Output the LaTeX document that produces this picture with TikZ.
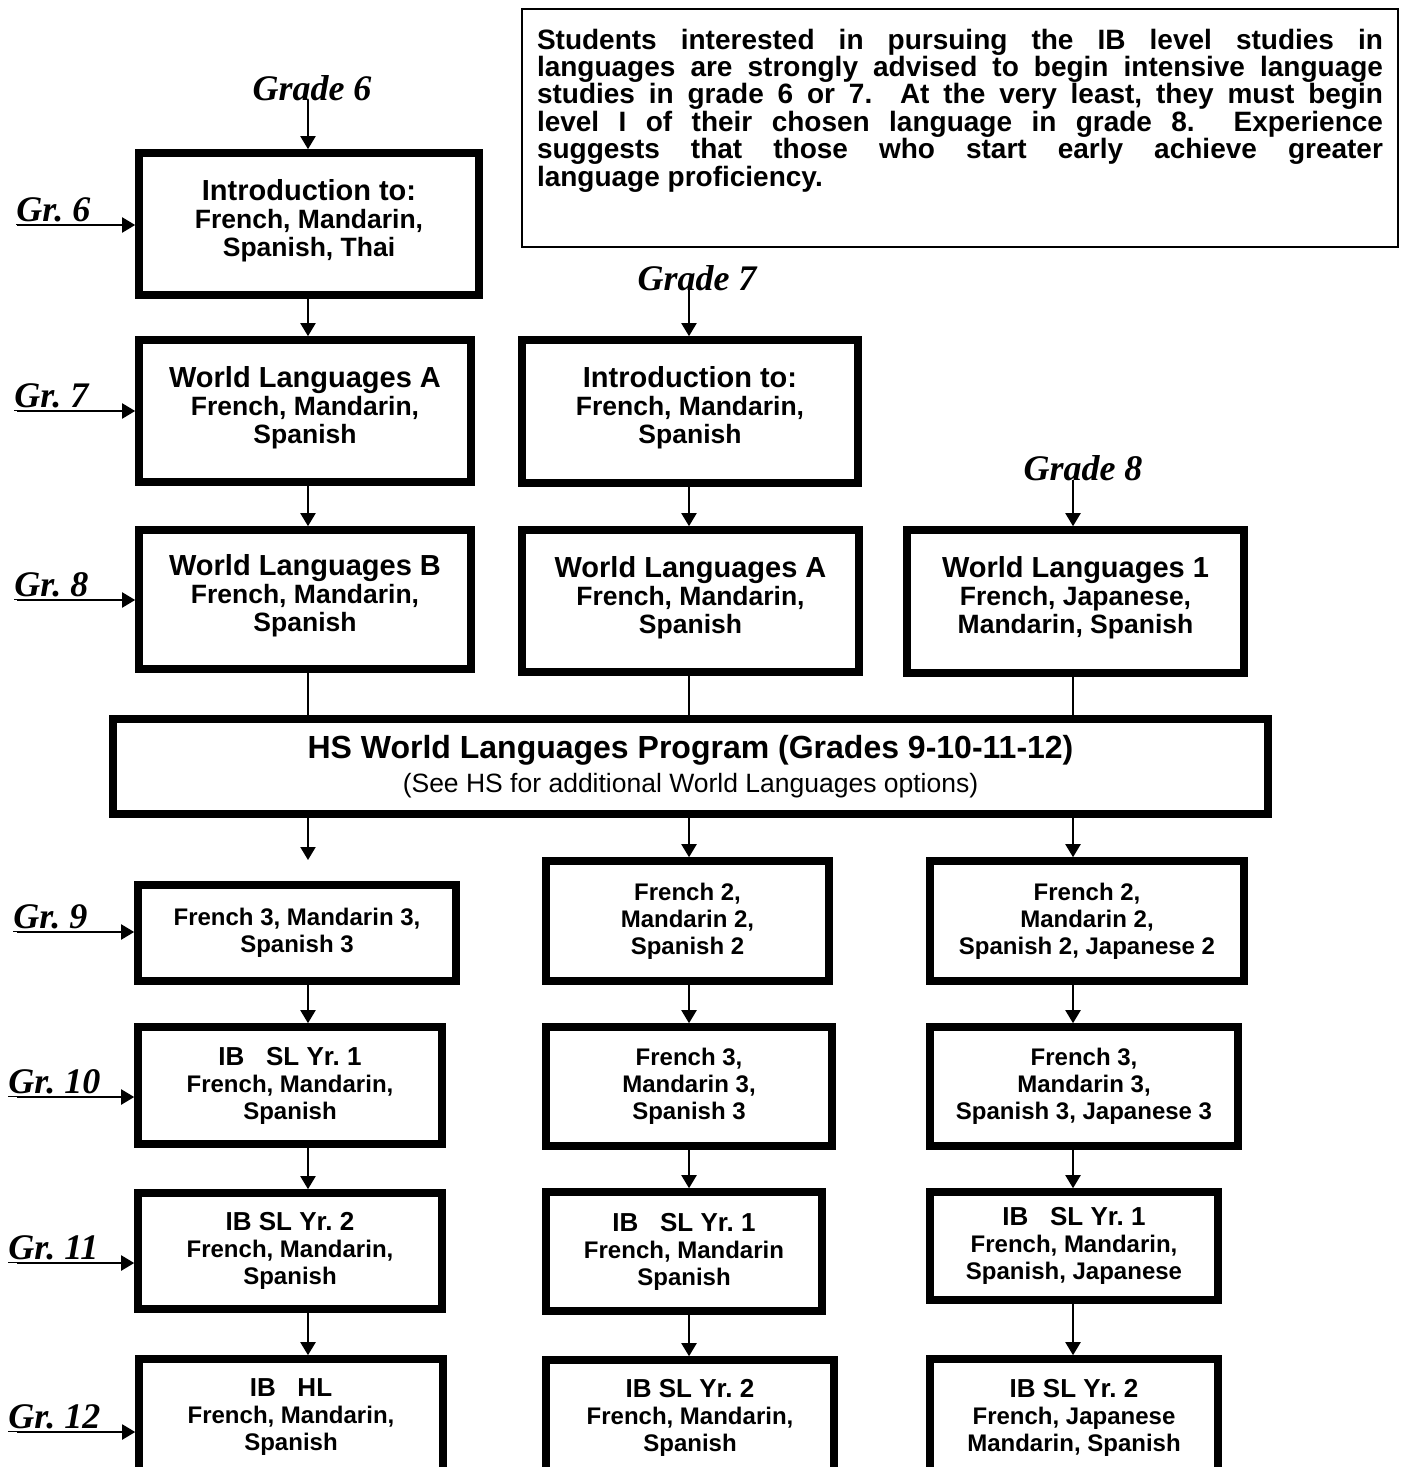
\documentclass[tikz,border=0pt]{standalone}
\usepackage{fontspec}
\setmainfont{Liberation Sans}
\newfontfamily\gradefont{Liberation Serif}
\usetikzlibrary{positioning,arrows.meta}
\frenchspacing

\newcommand{\toptitle}[1]{{\fontsize{14.5}{14}\selectfont #1}}
\newcommand{\lowtitle}[1]{{\fontsize{13}{13.5}\selectfont #1}}

\begin{document}
\begin{tikzpicture}[
    x=0.5pt, y=-0.5pt,
    >={Triangle[length=6.5pt,width=7.5pt]},
    flow/.style={->, line width=1pt},
    link/.style={line width=1pt},
    topbox/.style={draw, line width=3.8pt, align=center, inner sep=0pt,
        font=\fontsize{13.25}{14}\selectfont\bfseries, text depth=6.5pt},
    lowbox/.style={draw, line width=3.8pt, align=center, inner sep=0pt,
        font=\fontsize{12}{13.5}\selectfont\bfseries},
    hsbox/.style={draw, line width=3.8pt, align=center, inner sep=0pt,
        font=\fontsize{13.25}{17}\selectfont},
    note/.style={draw, line width=1pt, outer sep=0pt, anchor=north west,
        text width=423pt, inner xsep=7.5pt, inner ysep=0pt, text height=20pt, text depth=99pt,
        align=justify, font=\fontsize{14}{13.7}\selectfont\bfseries},
    grade/.style={font=\gradefont\fontsize{18}{18}\selectfont\bfseries\itshape, inner sep=0pt},
    grlabel/.style={grade, anchor=base west}
]
\useasboundingbox (0,0) rectangle (1404,1467);
\clip (0,0) rectangle (1404,1467);

% Column positions of the connectors
\coordinate (colA) at (308,0);
\coordinate (colB) at (689,0);
\coordinate (colC) at (1073,0);

% === Advice note ===
\node[note] (advice) at (522,9) {\tolerance=10000
Students interested in pursuing the IB level studies in\linebreak
languages are strongly advised to begin intensive language\linebreak
studies in grade 6 or 7.\ \ At the very least, they must begin\linebreak
level I of their chosen language in grade 8.\ \ Experience\linebreak
suggests that those who start early achieve greater\linebreak
language proficiency.};

% === Entry points ===
\node[grade, anchor=base] (g6) at (312,100) {Grade 6};
\node[grade, anchor=base] (g7) at (697,290) {Grade 7};
\node[grade, anchor=base] (g8) at (1083,480) {Grade 8};

% === Middle school boxes ===
\node[topbox, minimum width=170pt, minimum height=71pt] (a6) at (309,224)
    {\toptitle{Introduction to:}\\French, Mandarin,\\Spanish, Thai};
\node[topbox, minimum width=166pt, minimum height=71pt] (a7) at (305,411)
    {\toptitle{World Languages A}\\French, Mandarin,\\Spanish};
\node[topbox, minimum width=166pt, minimum height=69.5pt] (a8) at (305,599.5)
    {\toptitle{World Languages B}\\French, Mandarin,\\Spanish};
\node[topbox, minimum width=168pt, minimum height=71.5pt] (b7) at (690,411.5)
    {\toptitle{Introduction to:}\\French, Mandarin,\\Spanish};
\node[topbox, minimum width=168.5pt, minimum height=71pt] (b8) at (690.5,601)
    {\toptitle{World Languages A}\\French, Mandarin,\\Spanish};
\node[topbox, minimum width=168.5pt, minimum height=71.5pt] (c8) at (1075.5,601.5)
    {\toptitle{World Languages 1}\\French, Japanese,\\Mandarin, Spanish};

% === High school program ===
\node[hsbox, minimum width=577.5pt, minimum height=47.5pt] (hs) at (690.5,766.5)
    {{\fontsize{16}{17}\selectfont\bfseries HS World Languages Program (Grades 9-10-11-12)}\\
     (See HS for additional World Languages options)};

% === Grade 9 ===
\node[lowbox, minimum width=159pt, minimum height=48pt] (d9) at (297,933)
    {French 3, Mandarin 3,\\Spanish 3};
\node[lowbox, minimum width=141.5pt, minimum height=60pt] (e9) at (687.5,921)
    {French 2,\\Mandarin 2,\\Spanish 2};
\node[lowbox, minimum width=157pt, minimum height=60pt] (f9) at (1087,921)
    {French 2,\\Mandarin 2,\\Spanish 2, Japanese 2};

% === Grade 10 ===
\node[lowbox, minimum width=152pt, minimum height=58.5pt] (d10) at (290,1085.5)
    {\lowtitle{IB\ \ \ SL Yr. 1}\\French, Mandarin,\\Spanish};
\node[lowbox, minimum width=143pt, minimum height=59.5pt] (e10) at (689,1086.5)
    {French 3,\\Mandarin 3,\\Spanish 3};
\node[lowbox, minimum width=154pt, minimum height=59.5pt] (f10) at (1084,1086.5)
    {French 3,\\Mandarin 3,\\Spanish 3, Japanese 3};

% === Grade 11 ===
\node[lowbox, minimum width=152pt, minimum height=58pt] (d11) at (290,1251)
    {\lowtitle{IB SL Yr. 2}\\French, Mandarin,\\Spanish};
\node[lowbox, minimum width=138pt, minimum height=59.5pt] (e11) at (684,1251.5)
    {\lowtitle{IB\ \ \ SL Yr. 1}\\French, Mandarin\\Spanish};
\node[lowbox, minimum width=144pt, minimum height=54pt] (f11) at (1074,1246)
    {\lowtitle{IB\ \ \ SL Yr. 1}\\French, Mandarin,\\Spanish, Japanese};

% === Grade 12 ===
\node[lowbox, minimum width=152pt, minimum height=58.5pt] (d12) at (291,1417.5)
    {\lowtitle{IB\ \ \ HL}\\French, Mandarin,\\Spanish};
\node[lowbox, minimum width=144pt, minimum height=58pt] (e12) at (690,1418)
    {\lowtitle{IB SL Yr. 2}\\French, Mandarin,\\Spanish};
\node[lowbox, minimum width=144pt, minimum height=58.5pt] (f12) at (1074,1417.5)
    {\lowtitle{IB SL Yr. 2}\\French, Japanese\\Mandarin, Spanish};

% === Grade labels on the left ===
\node[grlabel] (gr6) at (16,221) {\underline{Gr. 6}};
\node[grlabel] (gr7) at (14,407) {\underline{Gr. 7}};
\node[grlabel] (gr8) at (14,596) {\underline{Gr. 8}};
\node[grlabel] (gr9) at (13,928) {\underline{Gr. 9}};
\node[grlabel] (gr10) at (8,1093) {\underline{Gr. 10}};
\node[grlabel] (gr11) at (8,1259) {\underline{Gr. 11}};
\node[grlabel] (gr12) at (8,1428) {\underline{Gr. 12}};

\coordinate (in6) at (17,225);
\coordinate (in7) at (17,411);
\coordinate (in8) at (17,600);
\coordinate (in9) at (17,932);
\coordinate (in10) at (17,1097);
\coordinate (in11) at (17,1263);
\coordinate (in12) at (17,1432);
\draw[flow] (in6) -- (in6 -| a6.west);
\draw[flow] (in7) -- (in7 -| a7.west);
\draw[flow] (in8) -- (in8 -| a8.west);
\draw[flow] (in9) -- (in9 -| d9.west);
\draw[flow] (in10) -- (in10 -| d10.west);
\draw[flow] (in11) -- (in11 -| d11.west);
\draw[flow] (in12) -- (in12 -| d12.west);

% === Connectors, middle school ===
\draw[flow] (g6.base -| colA) -- (a6.north -| colA);
\draw[flow] (a6.south -| colA) -- (a7.north -| colA);
\draw[flow] (a7.south -| colA) -- (a8.north -| colA);
\draw[flow] (g7.base -| colB) -- (b7.north -| colB);
\draw[flow] (b7.south -| colB) -- (b8.north -| colB);
\draw[flow] (g8.base -| colC) -- (c8.north -| colC);

\draw[link] (a8.south -| colA) -- (hs.north -| colA);
\draw[link] (b8.south -| colB) -- (hs.north -| colB);
\draw[link] (c8.south -| colC) -- (hs.north -| colC);

% === Connectors, high school ===
\coordinate (hsA) at (308,860);
\draw[flow] (hs.south -| colA) -- (hsA);
\draw[flow] (hs.south -| colB) -- (e9.north -| colB);
\draw[flow] (hs.south -| colC) -- (f9.north -| colC);

\draw[flow] (d9.south -| colA) -- (d10.north -| colA);
\draw[flow] (d10.south -| colA) -- (d11.north -| colA);
\draw[flow] (d11.south -| colA) -- (d12.north -| colA);
\draw[flow] (e9.south -| colB) -- (e10.north -| colB);
\draw[flow] (e10.south -| colB) -- (e11.north -| colB);
\draw[flow] (e11.south -| colB) -- (e12.north -| colB);
\draw[flow] (f9.south -| colC) -- (f10.north -| colC);
\draw[flow] (f10.south -| colC) -- (f11.north -| colC);
\draw[flow] (f11.south -| colC) -- (f12.north -| colC);
\end{tikzpicture}
\end{document}
